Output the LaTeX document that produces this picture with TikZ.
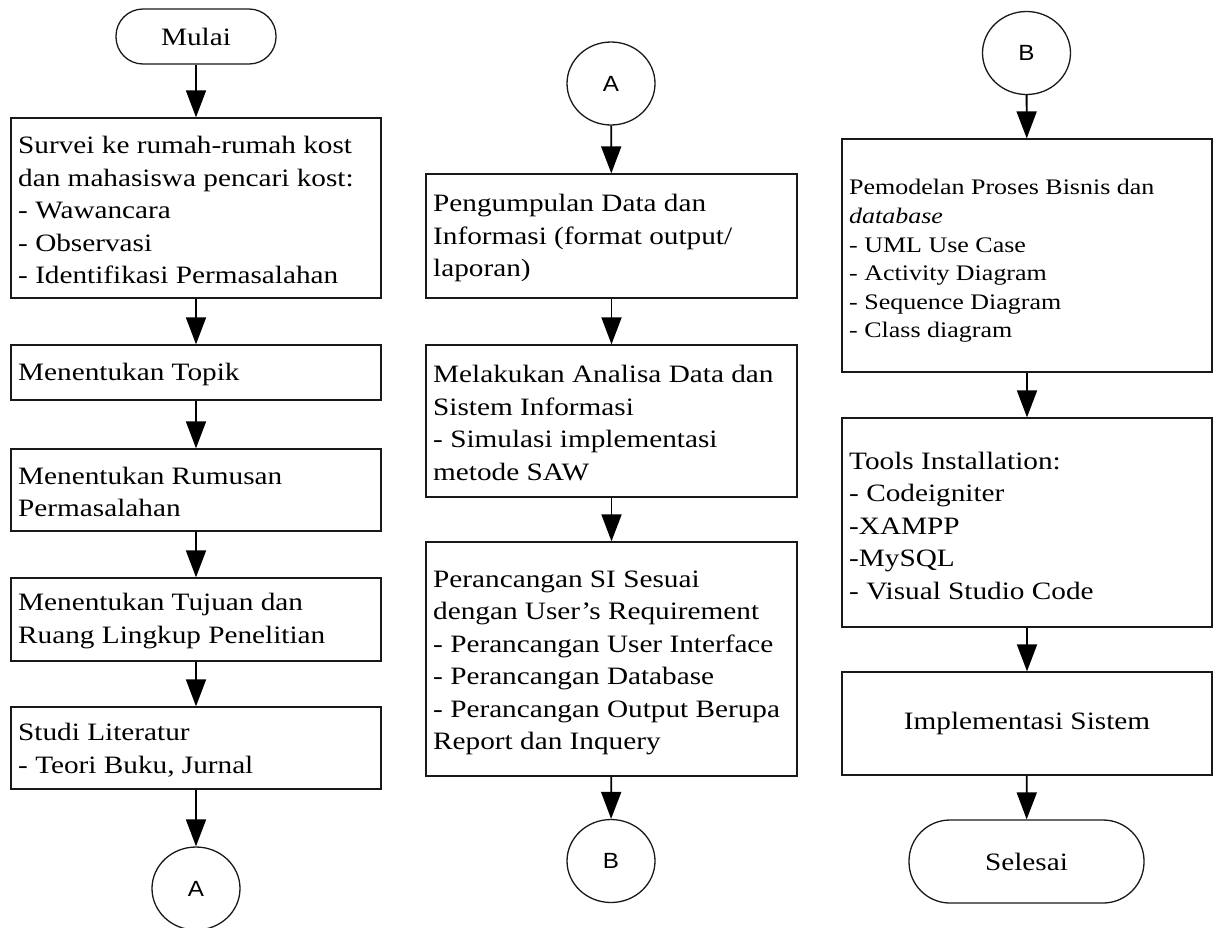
\documentclass[tikz,border=0pt]{standalone}
\usepackage{fontspec}
\setmainfont{Liberation Serif}[FakeStretch=1.17]
\newfontfamily\circfont{Liberation Sans}[FakeStretch=1.1]
\usetikzlibrary{arrows.meta,shapes.geometric}
\tikzset{
  box/.style={draw=black!90, line width=1.3pt, inner sep=0pt, rectangle},
  txt/.style={anchor=west, align=left, inner sep=0pt, font=\fontsize{25}{32.5}\selectfont},
  smalltxt/.style={anchor=west, align=left, inner sep=0pt, font=\fontsize{22.2}{28.6}\selectfont},
  term/.style={draw=black!90, line width=1.3pt, inner sep=0pt, rectangle, font=\fontsize{25}{32.5}\selectfont},
  conn/.style={draw=black!90, line width=1.3pt, ellipse, inner sep=0pt, minimum width=88pt, minimum height=83pt, font=\circfont\fontsize{22}{24}\selectfont},
  arr/.style={line width=1.8pt, -{Triangle[length=27pt,width=20pt]}}
}
\begin{document}
\begin{tikzpicture}[x=1pt,y=-1pt]
\useasboundingbox (0,0) rectangle (1214,927);
% column 1
\node[term, rounded corners=27pt, minimum width=160pt, minimum height=55pt] (mulai) at (196,36.5) {Mulai};
\node[box, minimum width=370pt, minimum height=180pt] (b1) at (196,208) {};
\node[txt] (t1) at (18,210) {Survei ke rumah-rumah kost\\dan mahasiswa pencari kost:\\- Wawancara\\- Observasi\\- Identifikasi Permasalahan};
\node[box, minimum width=370pt, minimum height=55pt] (b2) at (196,372.5) {};
\node[txt] (t2) at (18,374) {Menentukan Topik};
\node[box, minimum width=370pt, minimum height=82pt] (b3) at (196,490) {};
\node[txt] (t3) at (18,492) {Menentukan Rumusan\\Permasalahan};
\node[box, minimum width=370pt, minimum height=83pt] (b4) at (196,619.5) {};
\node[txt] (t4) at (18,621) {Menentukan Tujuan dan\\Ruang Lingkup Penelitian};
\node[box, minimum width=370pt, minimum height=82pt] (b5) at (196,748) {};
\node[txt] (t5) at (18,750) {Studi Literatur\\- Teori Buku, Jurnal};
\node[conn] (ca1) at (196,888.5) {A};
% column 2
\node[conn] (ca2) at (611,83.5) {A};
\node[box, minimum width=371pt, minimum height=124pt] (b6) at (611.5,236) {};
\node[txt] (t6) at (433,238) {Pengumpulan Data dan\\Informasi (format output/\\laporan)};
\node[box, minimum width=371pt, minimum height=152pt] (b7) at (611.5,421) {};
\node[txt] (t7) at (433,423) {Melakukan Analisa Data dan\\Sistem Informasi\\- Simulasi implementasi\\metode SAW};
\node[box, minimum width=371pt, minimum height=234pt] (b8) at (611.5,659) {};
\node[txt] (t8) at (433,663) {Perancangan SI Sesuai\\dengan User’s Requirement\\- Perancangan User Interface\\- Perancangan Database\\- Perancangan Output Berupa\\Report dan Inquery};
\node[conn] (cb1) at (611,861) {B};
% column 3
\node[conn] (cb2) at (1026.5,53) {B};
\node[box, minimum width=370pt, minimum height=233pt] (b9) at (1027,255.5) {};
\node[smalltxt] (t9) at (849,261) {Pemodelan Proses Bisnis dan\\\textit{database}\\- UML Use Case\\- Activity Diagram\\- Sequence Diagram\\- Class diagram};
\node[box, minimum width=370pt, minimum height=209pt] (b10) at (1027,522.5) {};
\node[txt] (t10) at (849,526) {Tools Installation:\\- Codeigniter\\-XAMPP\\-MySQL\\- Visual Studio Code};
\node[box, minimum width=370pt, minimum height=103pt, font=\fontsize{25}{32.5}\selectfont] (b11) at (1027,723.5) {Implementasi Sistem};
\node[term, rounded corners=41pt, minimum width=235pt, minimum height=83pt] (selesai) at (1026.5,861.5) {Selesai};
% connectors
\draw[arr] (mulai) -- (b1);
\draw[arr] (b1) -- (b2);
\draw[arr] (b2) -- (b3);
\draw[arr] (b3) -- (b4);
\draw[arr] (b4) -- (b5);
\draw[arr] (b5) -- (ca1);
\draw[arr] (ca2) -- (b6);
\draw[arr] (b6) -- (b7);
\draw[arr] (b7) -- (b8);
\draw[arr] (b8) -- (cb1);
\draw[arr] (cb2) -- (b9);
\draw[arr] (b9) -- (b10);
\draw[arr] (b10) -- (b11);
\draw[arr] (b11) -- (selesai);
\end{tikzpicture}
\end{document}
